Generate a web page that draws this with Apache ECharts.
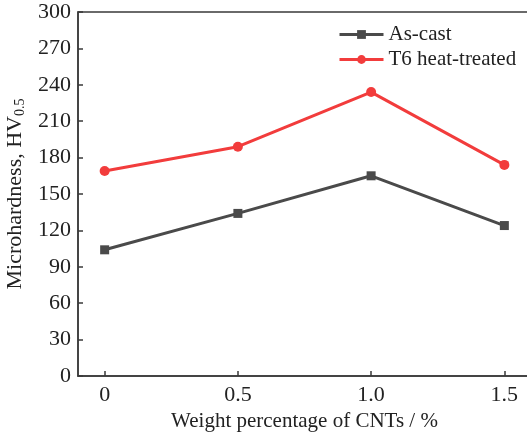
<!DOCTYPE html>
<html>
<head>
<meta charset="utf-8">
<script src="https://cdn.jsdelivr.net/npm/echarts@6/dist/echarts.min.js"></script>
<style>
  html, body { margin: 0; padding: 0; background: #fff; }
  #chart { width: 527px; height: 434px; }
</style>
</head>
<body>
<div id="chart"></div>
<script>
// CNT content (wt.%) and microhardness values
const cntContent = [0, 0.5, 1.0, 1.5];
const asCast = [104, 134, 165, 124];
const t6Treated = [169, 189, 234, 174];
const xTickLabels = { 0: '0', 0.5: '0.5', 1: '1.0', 1.5: '1.5' };
const seriesNames = ['As-cast', 'T6 heat-treated'];

const axisColor = '#3a3a3a';
const textColor = '#222';
const font = '"Liberation Serif", "Times New Roman", serif';

const chart = echarts.init(document.getElementById('chart'));
chart.setOption({
  animation: false,
  textStyle: { fontFamily: font },
  grid: {
    left: 78, right: -4, top: 12, bottom: 58,
    outerBoundsMode: 'none', containLabel: false,
    show: true, borderColor: axisColor, borderWidth: 1.5, backgroundColor: 'transparent'
  },
  legend: {
    orient: 'vertical',
    left: 333, top: 19,
    itemWidth: 44, itemHeight: 11, itemGap: 4,
    lineStyle: { width: 3 },
    textStyle: { fontFamily: font, fontSize: 21, color: textColor },
    data: seriesNames
  },
  xAxis: {
    type: 'value',
    min: -0.1, max: 1.6, interval: 0.5,
    name: 'Weight percentage of CNTs / %',
    nameLocation: 'middle', nameGap: 30,
    nameTextStyle: { fontFamily: font, fontSize: 21, color: textColor },
    axisLine: { onZero: false, lineStyle: { color: axisColor, width: 1.5 } },
    axisTick: { inside: true, length: 5, lineStyle: { color: axisColor, width: 1.5 },
      customValues: cntContent },
    axisLabel: { fontFamily: font, fontSize: 22, color: textColor, margin: 8,
      customValues: cntContent,
      formatter: v => xTickLabels[v] !== undefined ? xTickLabels[v] : '' },
    splitLine: { show: false }
  },
  yAxis: {
    type: 'value',
    min: 0, max: 300, interval: 30,
    name: 'Microhardness, HV{sub|0.5}',
    nameLocation: 'middle', nameGap: 46,
    nameTextStyle: { fontFamily: font, fontSize: 22, color: textColor,
      rich: { sub: { fontFamily: font, fontSize: 14, color: textColor, verticalAlign: 'bottom', padding: [9, 0, 0, 0] } } },
    axisLine: { show: true, onZero: false, lineStyle: { color: axisColor, width: 1.5 } },
    axisTick: { show: true, inside: true, length: 5, lineStyle: { color: axisColor, width: 1.5 } },
    axisLabel: { fontFamily: font, fontSize: 22, color: textColor, margin: 7 },
    splitLine: { show: false }
  },
  series: [
    {
      name: seriesNames[0], type: 'line',
      data: cntContent.map((x, i) => [x, asCast[i]]),
      symbol: 'rect', symbolSize: 9,
      itemStyle: { color: '#4a4a4a' },
      lineStyle: { color: '#4a4a4a', width: 3 }
    },
    {
      name: seriesNames[1], type: 'line',
      data: cntContent.map((x, i) => [x, t6Treated[i]]),
      symbol: 'circle', symbolSize: 10,
      itemStyle: { color: '#f23c3c' },
      lineStyle: { color: '#f23c3c', width: 3 }
    }
  ]
});
</script>
</body>
</html>
